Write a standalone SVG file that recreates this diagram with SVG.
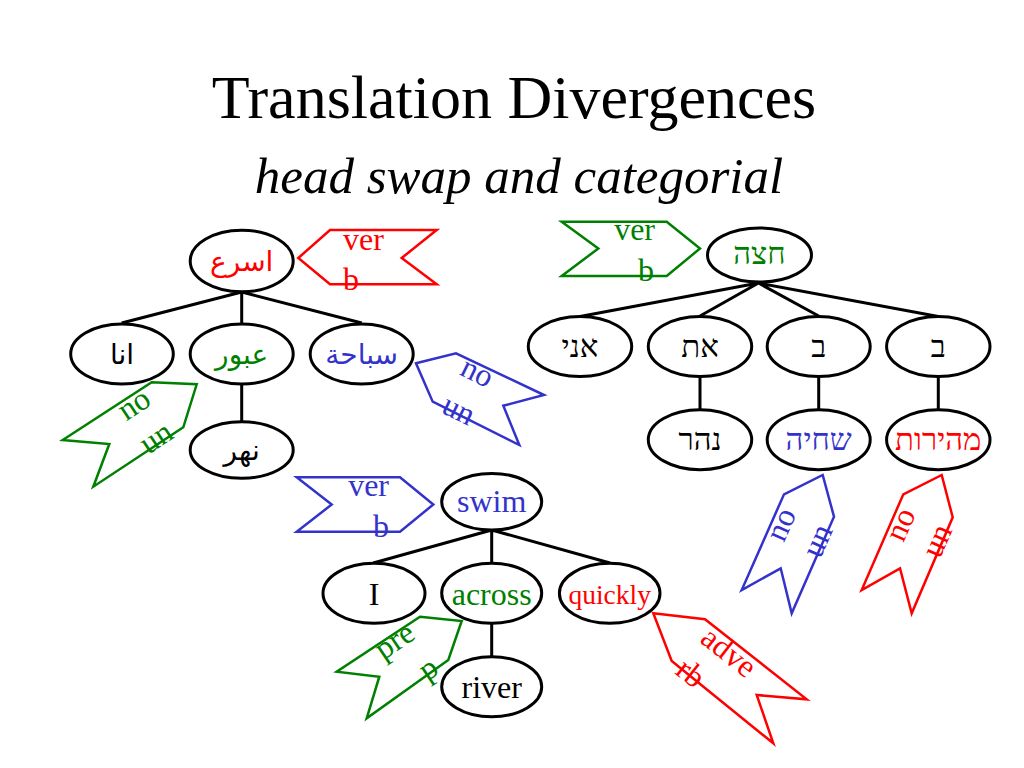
<svg xmlns="http://www.w3.org/2000/svg" width="1024" height="768" viewBox="0 0 1024 768">
<style>
  .title { font-family: "Liberation Serif", "Times New Roman", serif; font-size: 62px; fill: #000; }
  .sub { font-family: "Liberation Serif", "Times New Roman", serif; font-size: 51px; font-style: italic; fill: #000; }
  .node ellipse { fill: #fff; stroke: #000; stroke-width: 3; }
  .lat { font-family: "Liberation Serif", "Times New Roman", serif; font-size: 32px; text-anchor: middle; }
  .ar { font-family: "DejaVu Sans", "Noto Sans", sans-serif; font-size: 28px; text-anchor: middle; }
  .he { font-family: "Liberation Serif", "DejaVu Serif", "DejaVu Sans", serif; font-size: 31px; text-anchor: middle; }
  .tag polygon { fill: #fff; stroke-width: 2.5; stroke-linejoin: miter; }
  .tag text { font-family: "Liberation Serif", "Times New Roman", serif; font-size: 32px; }
  .r { fill: #ff0000; } .g { fill: #008000; } .b { fill: #3333cc; } .k { fill: #000; }
  .rs polygon { stroke: #ff0000; } .gs polygon { stroke: #008000; } .bs polygon { stroke: #3333cc; }
  .e { text-anchor: end; } .s { text-anchor: start; }
  #connectors path { stroke: #000; stroke-width: 3; fill: none; }
</style>

<text class="title" x="514" y="118" text-anchor="middle">Translation Divergences</text>
<text class="sub" x="519" y="193" text-anchor="middle">head swap and categorial</text>

<g id="connectors">
  <path d="M241.7,292 L121.7,323 M241.7,292 L241.7,324 M241.7,292 L361.7,323 M241.7,384 L241.7,422"/>
  <path d="M758.5,283 L580,316.5 M758.5,283 L700,316 M758.5,283 L818.7,316 M758.5,283 L938.3,316.5 M700,376 L700,410 M818.7,376 L818.7,410 M938.3,376 L938.3,410"/>
  <path d="M491.7,530 L373.3,563 M491.7,530 L491.7,563.5 M491.7,530 L610,563 M491.7,623 L491.7,657"/>
</g>

<!-- Arabic tree -->
<g id="ar-root" class="node"><ellipse cx="241.7" cy="261" rx="51.5" ry="30.8"/><text class="ar r" x="241.7" y="271">اسرع</text></g>
<g id="ar-ana" class="node"><ellipse cx="122" cy="354" rx="51.3" ry="30"/><text class="ar k" x="122" y="364">انا</text></g>
<g id="ar-ubur" class="node"><ellipse cx="241.7" cy="354" rx="51.5" ry="30"/><text class="ar g" x="241.7" y="364">عبور</text></g>
<g id="ar-sibaha" class="node"><ellipse cx="361.7" cy="354" rx="51.5" ry="30"/><text class="ar b" x="361.7" y="364">سباحة</text></g>
<g id="ar-nahr" class="node"><ellipse cx="241.7" cy="450" rx="51.5" ry="28.3"/><text class="ar k" x="241.7" y="460">نهر</text></g>

<!-- Hebrew tree -->
<g id="he-root" class="node"><ellipse cx="759.5" cy="255" rx="52" ry="27"/><text class="he g" x="759.5" y="264">חצה</text></g>
<g id="he-ani" class="node"><ellipse cx="580" cy="346.5" rx="51.7" ry="30"/><text class="he k" x="580" y="357">אני</text></g>
<g id="he-et" class="node"><ellipse cx="700" cy="346.5" rx="51.7" ry="30"/><text class="he k" x="700" y="357">את</text></g>
<g id="he-be1" class="node"><ellipse cx="818.7" cy="346.5" rx="51.5" ry="30"/><text class="he k" x="818.7" y="357">ב</text></g>
<g id="he-be2" class="node"><ellipse cx="938.3" cy="346.5" rx="51.7" ry="30"/><text class="he k" x="938.3" y="357">ב</text></g>
<g id="he-nahar" class="node"><ellipse cx="700" cy="439.7" rx="51.7" ry="30"/><text class="he k" x="700" y="450">נהר</text></g>
<g id="he-schiya" class="node"><ellipse cx="818.7" cy="439.7" rx="51.5" ry="30"/><text class="he b" x="818.7" y="450">שחיה</text></g>
<g id="he-mehirut" class="node"><ellipse cx="938.3" cy="439.7" rx="51.7" ry="30"/><text class="he r" x="938.3" y="450">מהירות</text></g>

<!-- English tree -->
<g id="en-swim" class="node"><ellipse cx="491.7" cy="501.7" rx="50" ry="28.3"/><text class="lat b" x="491.7" y="512">swim</text></g>
<g id="en-i" class="node"><ellipse cx="374" cy="593.3" rx="51" ry="30"/><text class="lat k" x="374" y="605">I</text></g>
<g id="en-across" class="node"><ellipse cx="491.7" cy="593.3" rx="50" ry="30"/><text class="lat g" x="491.7" y="605">across</text></g>
<g id="en-quickly" class="node"><ellipse cx="609.7" cy="593.3" rx="50.3" ry="30"/><text class="lat r" x="609.7" y="604" style="font-size:27.5px">quickly</text></g>
<g id="en-river" class="node"><ellipse cx="491.7" cy="686.7" rx="50" ry="30"/><text class="lat k" x="491.7" y="698">river</text></g>

<!-- category tags -->
<g id="tag-verb-red" class="tag rs">
  <polygon points="298.3,258 330,230 436.7,230 401.7,258 436.7,284.3 330,284.3"/>
  <text class="r s" x="343" y="250">ver</text>
  <text class="r s" x="343" y="290">b</text>
</g>
<g id="tag-verb-green" class="tag gs">
  <polygon points="561.7,221.7 666.7,221.7 700,248.5 666.7,276 561.7,276 598.3,248.5"/>
  <text class="g e" x="655" y="240">ver</text>
  <text class="g e" x="654" y="281">b</text>
</g>
<g id="tag-verb-blue" class="tag bs">
  <polygon points="296.7,477.3 400,477.3 433.3,504.5 400,531.7 296.7,531.7 331.7,504.5"/>
  <text class="b e" x="389" y="496">ver</text>
  <text class="b e" x="389" y="537">b</text>
</g>
<g id="tag-noun-green" class="tag gs">
  <polygon points="151.7,382.3 196.7,384.3 183.3,427.3 93.3,486.7 109.3,444 62.7,440"/>
  <g transform="translate(137.3,423.8) rotate(-33.6)">
    <text class="g e" x="24" y="-8">no</text>
    <text class="g e" x="24" y="32">un</text>
  </g>
</g>
<g id="tag-noun-blue1" class="tag bs">
  <polygon points="416,363.3 456,353.3 544,395 503.3,405.7 519.3,445 432.7,401.7"/>
  <g transform="translate(473.8,391.7) rotate(26.1)">
    <text class="b s" x="-21.5" y="-9">no</text>
    <text class="b s" x="-21.5" y="33">un</text>
  </g>
</g>
<g id="tag-noun-blue2" class="tag bs">
  <polygon points="822.7,475 834,516.7 791.7,613.3 780.7,568.3 741.7,590 784,494.3"/>
  <g transform="translate(794.7,538.2) rotate(-66.1)">
    <text class="b e" x="23" y="-8">no</text>
    <text class="b e" x="23" y="32">un</text>
  </g>
</g>
<g id="tag-noun-red" class="tag rs">
  <polygon points="941.7,475 952.7,517.3 911.7,613.3 900,568.3 861.7,590 903.3,494.3"/>
  <g transform="translate(914.2,538.2) rotate(-66.1)">
    <text class="r e" x="23" y="-8">no</text>
    <text class="r e" x="23" y="32">un</text>
  </g>
</g>
<g id="tag-prep-green" class="tag gs">
  <polygon points="420,616.7 461.7,621 448.3,660 366.7,718.3 379.3,676.7 336.7,671.7"/>
  <g transform="translate(406.7,658) rotate(-34)">
    <text class="g e" x="20" y="-11">pre</text>
    <text class="g e" x="20" y="31">p</text>
  </g>
</g>
<g id="tag-adverb-red" class="tag rs">
  <polygon points="653.3,613.3 705,619.3 806.7,699.3 756.7,695 773.3,743.3 671.7,661"/>
  <g transform="translate(721.7,667.3) rotate(38.3)">
    <text class="r s" x="-34" y="-6">adve</text>
    <text class="r s" x="-34" y="34">rb</text>
  </g>
</g>
</svg>
